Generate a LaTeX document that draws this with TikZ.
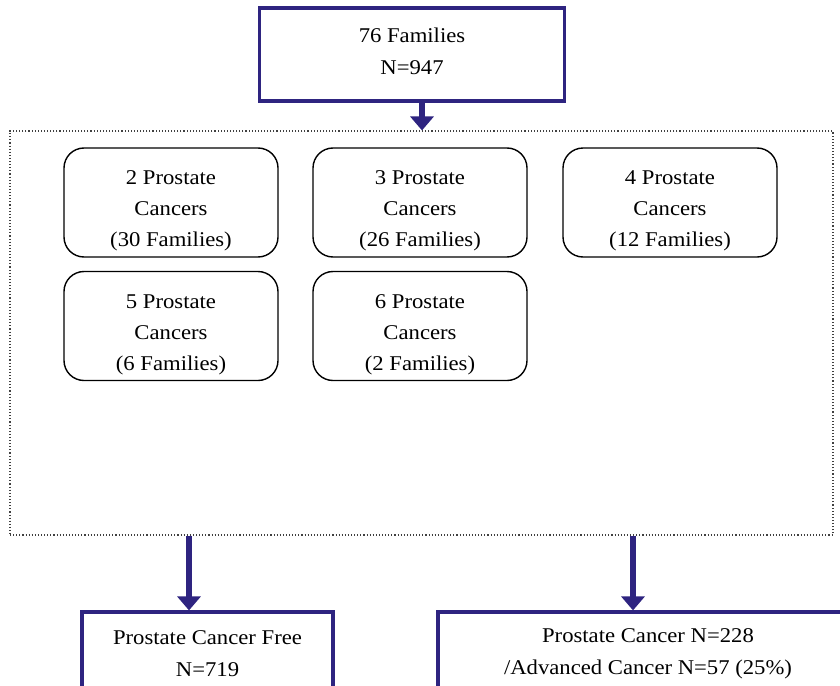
\documentclass[tikz,border=0pt]{standalone}
\usepackage{fontspec}
\setmainfont[FakeStretch=1.08]{Liberation Serif}
\usetikzlibrary{arrows.meta}
\definecolor{navy}{RGB}{46,36,128}
\tikzset{
  bluebox/.style={draw=navy, line width=3.2pt, align=center, inner sep=0pt,
    font=\fontsize{21}{32}\selectfont},
  cancerbox/.style={draw=black, line width=1.4pt, rounded corners=20pt,
    minimum width=214pt, minimum height=109pt, align=center, inner sep=0pt,
    text height=93pt, font=\fontsize{21}{31}\selectfont},
  flow/.style={draw=navy, line width=5.5pt,
    -{Triangle[width=23pt,length=14pt]}}
}

\begin{document}
\begin{tikzpicture}[x=1pt,y=-1pt]
      \path[use as bounding box, clip] (0,0) rectangle (840,685);

      % top and outer frame
      \node [bluebox, minimum width=305pt, minimum height=93pt, text depth=7pt] (fam) at (412,54.5) {76 Families\\N=947};
      \node [draw=black!75, dotted, line width=1.1pt, minimum width=823pt, minimum height=404pt, inner sep=0pt] (group) at (421.5,333) {};

      % number of cancers per family
      \node [cancerbox] (two) at (171,202.5) {2 Prostate\\Cancers\\(30 Families)};
      \node [cancerbox] (three) at (420,202.5) {3 Prostate\\Cancers\\(26 Families)};
      \node [cancerbox] (four) at (670,202.5) {4 Prostate\\Cancers\\(12 Families)};
      \node [cancerbox] (five) at (171,326) {5 Prostate\\Cancers\\(6 Families)};
      \node [cancerbox] (six) at (420,326) {6 Prostate\\Cancers\\(2 Families)};

      % outcomes (cut off by the page edge)
      \node [bluebox, minimum width=251pt, minimum height=84pt] (free) at (207.5,654) {Prostate Cancer Free\\N=719};
      \node [bluebox, minimum width=420pt, minimum height=84pt] (pc) at (648,654) {Prostate Cancer N=228\\/Advanced Cancer N=57 (25\%)};

      \coordinate (c0) at (422,0);
      \coordinate (c1) at (189,0);
      \coordinate (c2) at (633,0);
      \draw [flow] (c0 |- fam.south) -- (c0 |- group.north);
      \draw [flow] (c1 |- group.south) -- (c1 |- free.north);
      \draw [flow] (c2 |- group.south) -- (c2 |- pc.north);
\end{tikzpicture}
\end{document}
